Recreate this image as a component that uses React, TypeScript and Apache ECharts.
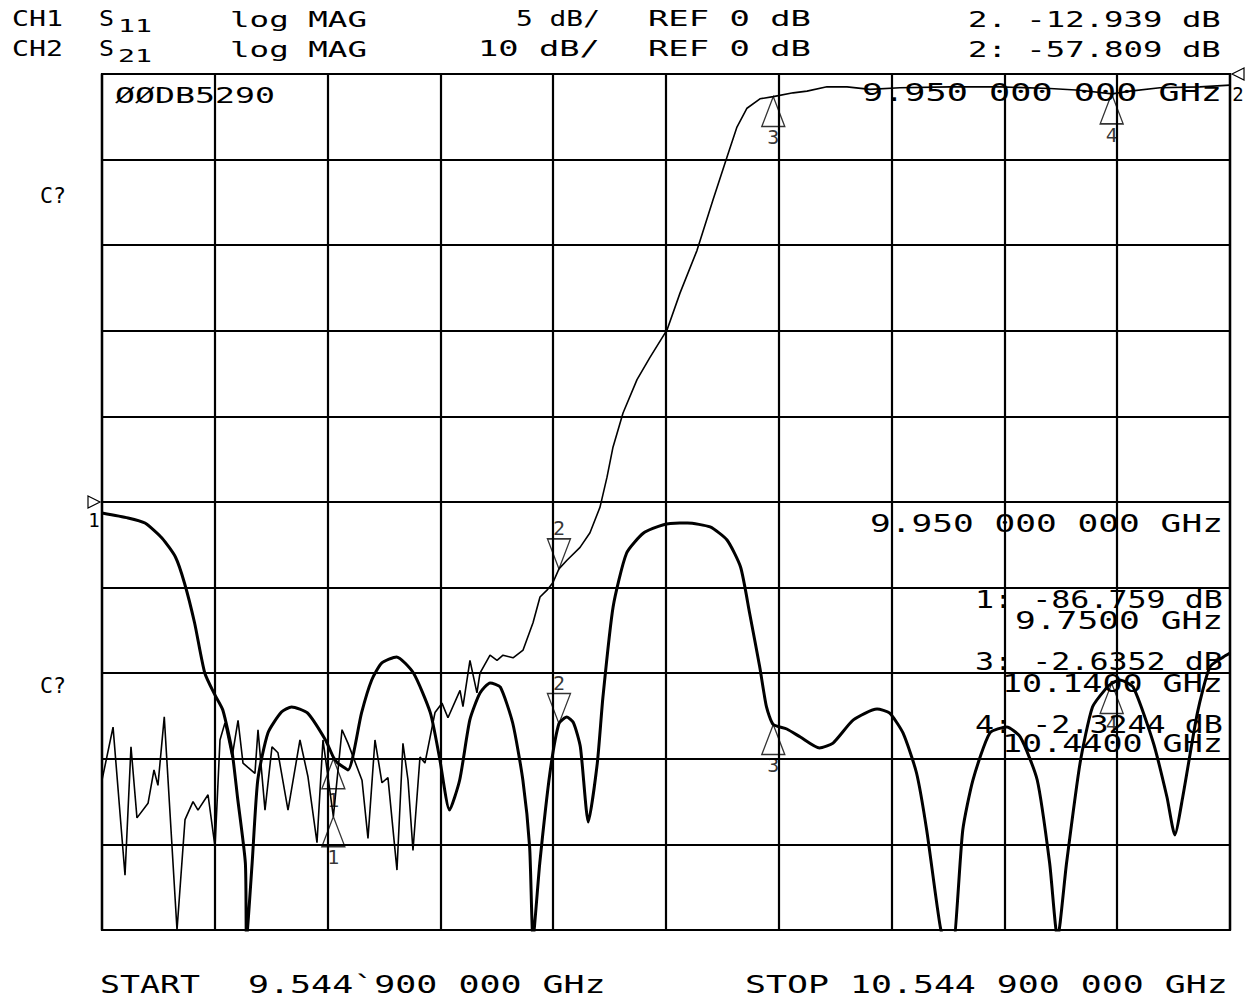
import React, { useEffect, useRef } from "react";
import * as echarts from "echarts";

// ---- sweep ----
const START_GHZ = 9.5449;
const STOP_GHZ = 10.5449;

// ---- CH1 S11 (5 dB/div, ref 0 dB at centre) ----
const s11Freq = [
  9.5449, 9.568, 9.583, 9.598, 9.61, 9.618, 9.627, 9.636, 9.645, 9.652,
  9.66, 9.665, 9.672, 9.673, 9.678, 9.683, 9.692, 9.704, 9.713, 9.727,
  9.743, 9.75, 9.754, 9.763, 9.775, 9.784, 9.793, 9.806, 9.821, 9.836,
  9.844, 9.853, 9.862, 9.871, 9.88, 9.889, 9.898, 9.909, 9.918, 9.924,
  9.927, 9.933, 9.942, 9.95, 9.957, 9.963, 9.969, 9.976, 9.984, 9.989,
  9.998, 10.01, 10.025, 10.042, 10.057, 10.064, 10.084, 10.099, 10.111, 10.119,
  10.128, 10.134, 10.14, 10.152, 10.164, 10.181, 10.193, 10.211, 10.232, 10.243,
  10.255, 10.267, 10.276, 10.288, 10.294, 10.299, 10.308, 10.317, 10.332, 10.347,
  10.359, 10.374, 10.385, 10.392, 10.4, 10.412, 10.423, 10.436, 10.44, 10.447,
  10.459, 10.477, 10.489, 10.496, 10.503, 10.516, 10.527, 10.539, 10.5449,
];
const s11Db = [
  -0.64, -0.93, -1.23, -2.1, -3.21, -4.73, -7.07, -9.99, -11.27, -12.15,
  -14.49, -17.23, -21.09, -25.5, -21.09, -16.24, -13.49, -12.27, -11.97, -12.32,
  -13.9, -14.9, -15.25, -15.65, -12.32, -10.4, -9.4, -9.05, -9.99, -12.32,
  -14.89, -17.99, -16.24, -12.73, -11.16, -10.57, -10.81, -12.91, -16.24, -20.15,
  -25.5, -21.09, -15.83, -12.94, -12.56, -12.91, -14.31, -18.69, -15.25, -11.39,
  -6.13, -2.98, -1.81, -1.34, -1.23, -1.23, -1.46, -2.22, -3.8, -6.48,
  -9.64, -11.97, -13.0, -13.26, -13.73, -14.37, -14.08, -12.73, -12.09, -12.32,
  -13.49, -15.83, -19.16, -24.8, -26, -26, -19.16, -16.24, -13.49, -13.14,
  -13.73, -16.24, -21.09, -25.5, -21.09, -15.25, -11.97, -10.81, -10.6, -10.4,
  -10.81, -14.08, -17.23, -19.45, -17.23, -12.32, -9.64, -9.05, -8.82,
];

// ---- CH2 S21 (10 dB/div, ref 0 dB at top) ----
const s21Freq = [
  9.5449, 9.5547, 9.5653, 9.5706, 9.5759, 9.5857, 9.591, 9.5945, 9.6001, 9.6114,
  9.6185, 9.6256, 9.63, 9.6389, 9.6451, 9.6495, 9.6539, 9.6602, 9.6655, 9.6699,
  9.6743, 9.6805, 9.6832, 9.6894, 9.6956, 9.7009, 9.7098, 9.7204, 9.7275, 9.7355,
  9.7408, 9.75, 9.7577, 9.763, 9.7754, 9.7807, 9.7869, 9.7931, 9.7984, 9.8064,
  9.8117, 9.8162, 9.8206, 9.8268, 9.8312, 9.8401, 9.8463, 9.8516, 9.8623, 9.8649,
  9.8711, 9.8773, 9.88, 9.8889, 9.8951, 9.9004, 9.9093, 9.9182, 9.927, 9.9332,
  9.9394, 9.9447, 9.95, 9.9571, 9.9687, 9.9775, 9.9864, 9.9926, 9.9979, 10.0068,
  10.0192, 10.0307, 10.0458, 10.0573, 10.0724, 10.0866, 10.099, 10.1078, 10.1167, 10.1282,
  10.14, 10.1576, 10.1699, 10.1876, 10.2054, 10.2258, 10.2523, 10.2967, 10.341, 10.3853,
  10.4119, 10.4403, 10.4563, 10.4828, 10.5183, 10.5449,
];
const s21Db = [
  -82.5, -76.3, -93.6, -78.6, -86.9, -85.2, -81.3, -83.1, -75.1, -100,
  -87.1, -85.0, -86.0, -84.2, -90.3, -77.8, -75.8, -79.8, -75.5, -80.5,
  -81.0, -81.7, -76.6, -86.0, -78.6, -79.3, -86.0, -77.8, -82.1, -89.8,
  -77.8, -86.76, -76.6, -78.2, -82.5, -89.3, -77.8, -82.8, -82.2, -93.0,
  -78.2, -82.5, -90.7, -79.8, -80.5, -74.6, -73.5, -75.2, -72.0, -73.9,
  -68.5, -72.3, -70.0, -67.9, -68.5, -67.9, -68.2, -67.3, -64.1, -61.1,
  -60.3, -59.4, -57.81, -56.8, -55.3, -53.6, -50.6, -47.1, -43.6, -39.6,
  -35.7, -33.1, -29.9, -25.6, -20.6, -14.7, -9.7, -6.2, -4.0, -2.9,
  -2.64, -2.2, -2.0, -1.5, -1.5, -1.8, -1.6, -1.5, -1.5, -1.7,
  -1.9, -2.32, -2.0, -1.6, -1.5, -1.3,
];

// ---- markers ----
const markerIds = ["1", "2", "3", "4"];
const markerFreq = [9.75, 9.95, 10.14, 10.44];
const s11MarkerDb = [-15.0, -12.939, -13.0, -10.6];
const s21MarkerDb = [-86.759, -57.809, -2.6352, -2.3244];
const activeMarker = "2";

// ---- axis scales ----
const spanGHz = STOP_GHZ - START_GHZ;
const freqDiv = 0.1;
const s21Scale = { min: -100, max: 0, step: 10 };
const s11Scale = { min: -25, max: 25, step: 5 };

const FONT = '"DejaVu Sans Mono", "Liberation Mono", monospace';

let measureCtx: CanvasRenderingContext2D | null = null;
function measure(text: string, size: number): number {
  if (!measureCtx) measureCtx = document.createElement("canvas").getContext("2d");
  if (!measureCtx) return text.length * size * 0.6;
  measureCtx.font = `${size}px ${FONT}`;
  return measureCtx.measureText(text).width;
}

function txt(text: string, x0: number, x1: number, yc: number, size: number) {
  const w = measure(text, size);
  return {
    type: "text",
    x: x0,
    y: yc,
    scaleX: w > 0 ? (x1 - x0) / w : 1,
    silent: true,
    z: 10,
    style: {
      text,
      font: `${size}px ${FONT}`,
      fill: "#000",
      textAlign: "left",
      textVerticalAlign: "middle",
      align: "left",
      verticalAlign: "middle",
    },
  };
}

const UP = "triangle";
const DOWN = "path://M0,0L20,0L10,26Z";

function markerData(db: number[]) {
  return markerFreq.map((f, i) => {
    const active = markerIds[i] === activeMarker;
    return {
      value: [f - START_GHZ, db[i]],
      symbol: active ? DOWN : UP,
      symbolOffset: [0, active ? "-50%" : "50%"],
      label: { position: active ? "top" : "bottom" },
    };
  });
}

export default function App() {
  const ref = useRef<HTMLDivElement>(null);

  useEffect(() => {
    if (!ref.current) return;
    const chart = echarts.init(ref.current, undefined, { renderer: "svg" });

    const gridLine = { color: "#000", width: 2.2 };
    const markerLabel = {
      show: true,
      formatter: (p: any) => markerIds[p.dataIndex],
      fontFamily: FONT,
      fontSize: 20,
      color: "#000",
      distance: 0,
    };
    const markerItem = { color: "rgba(0,0,0,0)", borderColor: "#000", borderWidth: 1.4 };

    chart.setOption({
      animation: false,
      backgroundColor: "#fff",
      grid: {
        left: 102,
        right: 20,
        top: 74,
        bottom: 68,
        show: true,
        borderColor: "#000",
        borderWidth: 2.2,
        backgroundColor: "rgba(0,0,0,0)",
      },
      xAxis: {
        type: "value",
        min: 0,
        max: spanGHz,
        interval: freqDiv,
        axisLabel: { show: false },
        axisTick: { show: false },
        axisLine: { show: true, lineStyle: gridLine },
        splitLine: { show: true, lineStyle: gridLine },
      },
      yAxis: [
        {
          type: "value",
          min: s21Scale.min,
          max: s21Scale.max,
          interval: s21Scale.step,
          axisLabel: { show: false },
          axisTick: { show: false },
          axisLine: { show: true, lineStyle: gridLine },
          splitLine: { show: true, lineStyle: gridLine },
        },
        {
          type: "value",
          position: "right",
          min: s11Scale.min,
          max: s11Scale.max,
          interval: s11Scale.step,
          axisLabel: { show: false },
          axisTick: { show: false },
          axisLine: { show: true, lineStyle: gridLine },
          splitLine: { show: false },
        },
      ],
      series: [
        {
          name: "S21",
          type: "line",
          yAxisIndex: 0,
          data: s21Freq.map((f, i) => [f - START_GHZ, s21Db[i]]),
          showSymbol: false,
          symbol: "none",
          clip: true,
          z: 3,
          lineStyle: { color: "#000", width: 1.6 },
          silent: true,
          markPoint: {
            symbol: "path://M12,0L0,6L12,12Z",
            symbolSize: [12, 12],
            symbolOffset: [8, 0],
            itemStyle: { color: "rgba(0,0,0,0)", borderColor: "#000", borderWidth: 1.2 },
            label: { show: true, formatter: "2", position: "bottom", distance: 4, fontFamily: FONT, fontSize: 19, color: "#000" },
            data: [{ coord: [spanGHz, 0] }],
            silent: true,
          },
        },
        {
          name: "S11",
          type: "line",
          yAxisIndex: 1,
          data: s11Freq.map((f, i) => [f - START_GHZ, s11Db[i]]),
          showSymbol: false,
          symbol: "none",
          smooth: 0.2,
          clip: true,
          z: 4,
          lineStyle: { color: "#000", width: 3 },
          silent: true,
          markPoint: {
            symbol: "path://M0,0L12,6L0,12Z",
            symbolSize: [12, 12],
            symbolOffset: [-8, 0],
            itemStyle: { color: "rgba(0,0,0,0)", borderColor: "#000", borderWidth: 1.2 },
            label: { show: true, formatter: "1", position: "bottom", distance: 2, fontFamily: FONT, fontSize: 19, color: "#000" },
            data: [{ coord: [0, 0] }],
            silent: true,
          },
        },
        {
          name: "S21 markers",
          type: "scatter",
          yAxisIndex: 0,
          symbolSize: [23, 30],
          data: markerData(s21MarkerDb),
          itemStyle: markerItem,
          label: markerLabel,
          z: 6,
          silent: true,
        },
        {
          name: "S11 markers",
          type: "scatter",
          yAxisIndex: 1,
          symbolSize: [23, 30],
          data: markerData(s11MarkerDb),
          itemStyle: markerItem,
          label: markerLabel,
          z: 6,
          silent: true,
        },
      ],
      graphic: [
        txt("CH1", 12, 63, 19, 22),
        txt("S", 99, 114, 19, 22),
        txt("11", 118, 152, 26, 18),
        txt("log MAG", 230, 367, 19, 22),
        txt("5 dB/", 516, 600, 19, 22),
        txt("REF 0 dB", 648, 811, 19, 22),
        txt("2. -12.939 dB", 968, 1221, 19, 22),
        txt("CH2", 12, 63, 49, 22),
        txt("S", 99, 114, 49, 22),
        txt("21", 118, 152, 56, 18),
        txt("log MAG", 230, 367, 49, 22),
        txt("10 dB/", 478, 600, 49, 22),
        txt("REF 0 dB", 648, 811, 49, 22),
        txt("2: -57.809 dB", 968, 1221, 49, 22),
        txt("ØØDB5290", 115, 275, 96, 22),
        txt("9.950 000 000 GHz", 862, 1222, 93, 24),
        txt("9.950 000 000 GHz", 870, 1223, 524, 24),
        txt("1: -86.759 dB", 975, 1223, 600, 24),
        txt("9.7500 GHz", 1015, 1223, 621, 24),
        txt("3: -2.6352 dB", 975, 1223, 662, 24),
        txt("10.1400 GHz", 1002, 1223, 684, 24),
        txt("4: -2.3244 dB", 975, 1223, 725, 24),
        txt("10.4400 GHz", 1002, 1223, 744, 24),
        txt("C?", 40, 66, 195, 22),
        txt("C?", 40, 66, 685, 22),
        txt("START", 100, 200, 985, 24),
        txt("9.544`900 000 GHz", 248, 606, 985, 24),
        txt("STOP 10.544 900 000 GHz", 745, 1228, 985, 24),
      ],
    });

    return () => chart.dispose();
  }, []);

  return (
    <div
      ref={ref}
      style={{ position: "fixed", left: 0, top: 0, width: 1250, height: 998, background: "#fff" }}
    />
  );
}
